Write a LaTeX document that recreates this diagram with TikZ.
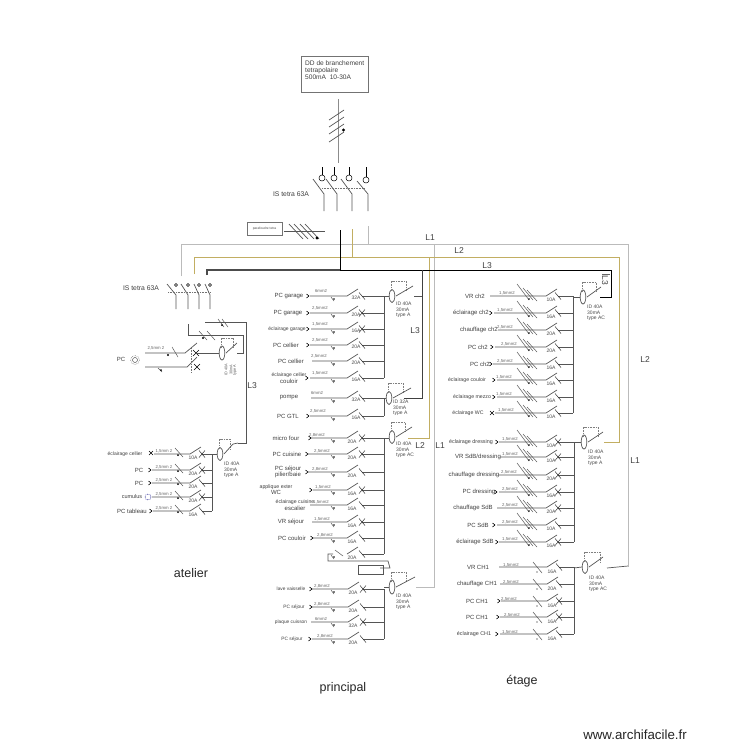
\documentclass[tikz,border=0pt]{standalone}
\usepackage{fontspec}
\setmainfont{Liberation Sans}
\definecolor{busyellow}{HTML}{C2AE62}
\definecolor{busgray}{HTML}{BBBBBB}
\definecolor{wiregray}{HTML}{555555}
\tikzset{
  wire/.style={draw=wiregray,line width=0.7pt},
  thin wire/.style={draw=wiregray,line width=0.5pt},
  dash box/.style={draw=black!50,line width=0.35pt,dash pattern=on 0.8pt off 0.8pt},
  dot line/.style={line width=0.35pt,dash pattern=on 0.8pt off 0.8pt,draw=black!55},
  lbl/.style={inner sep=0pt,align=center,text=black!75,font=\fontsize{6}{6.4}\selectfont},
  secl/.style={inner sep=0pt,text=black!60,font=\fontsize{4.3}{4.5}\selectfont},
  rate/.style={inner sep=0pt,text=black!70,font=\fontsize{5}{5.4}\selectfont},
  idl/.style={inner sep=0pt,align=left,anchor=north west,text=black!70,font=\fontsize{5}{5.4}\selectfont},
  big/.style={inner sep=0pt,font=\fontsize{12.5}{14}\selectfont,text=black!85},
  lline/.style={inner sep=0pt,font=\fontsize{8.5}{10}\selectfont,text=black!75},
}
\newcounter{rw}
\def\SX{347}\def\BX{384}\def\CX{15}\def\SO{5}\def\RO{1.5}\def\RX{9}\def\IDO{8}
\def\SL#1{}
% #1 y, #2 label x, #3 label, #4 symbol x, #5 wire start, #6 section x, #7 section, #8 rating, #9 contact mode
\newcommand{\crow}[9]{%
  \stepcounter{rw}%
  \node[lbl] (lab\therw) at (#2,#1) {#3};
  \if\relax\detokenize{#4}\relax\else
    \draw[line width=0.6pt,black] (#4-1.5,#1-2) -- (#4+1,#1) -- (#4-1.5,#1+2);
  \fi
  \coordinate (s\therw) at (#5,#1);
  \coordinate (e\therw) at (\SX,#1);
  \coordinate (c\therw) at (\SX+\CX,#1);
  \coordinate (b\therw) at (\BX,#1);
  \draw[wire] (s\therw) -- (e\therw) -- ++(11,-7);
  \draw[wire] (c\therw) -- (b\therw);
  \draw[line width=0.5pt,black!80] (\SX+\CX-3,#1-3.5) -- (\SX+\CX+3,#1+3.5);
  \if#9X\draw[line width=0.5pt,black!80] (\SX+\CX-3,#1+3.5) -- (\SX+\CX+3,#1-3.5);\fi
  \SL{#1}
  \node[secl] at (#6,#1-\SO) {#7};
  \node[rate] at (\SX+\RX,#1+\RO) {#8};
}
\newcommand{\idunit}[6]{% x,y of ellipse; ry; box width; blade end x; text
  \draw[wire,fill=white] (#1,#2) ellipse [x radius=2.8,y radius=#3];
  \draw[dash box] (#1-0.5,#2-5) -- (#1-0.5,#2-15) -- (#1+#4,#2-15) -- (#1+#4,#2-5);
  \draw[wire] (#1+4,#2) -- (#5,#2-10);
  \node[idl] at (#1+4,#2+\IDO) {#6};
}
\begin{document}
\begin{tikzpicture}[x=1pt,y=-1pt]
\useasboundingbox (0,0) rectangle (750,750);
\fill[white] (0,0) rectangle (750,750);

% DD box and incoming cable
\node[draw=black!55,line width=0.8pt,minimum width=67pt,minimum height=36pt,inner sep=0pt] (dd) at (334.5,74) {};
\node[inner sep=0pt,align=left,anchor=north west,font=\fontsize{6.6}{6.8}\selectfont,text=black!75] at (305,60.5) {DD de branchement\\tetrapolaire\\500mA~~10-30A};
\draw[draw=black!45,line width=1pt] (338,99) -- (338,163);
\foreach \yy in {120,127,134,142}{\draw[wire] (329,\yy) -- (344,\yy-10);}
\fill (343.5,130) circle (1.7);

% main IS switch
\foreach \a/\b/\cy in {322/324/178,334/337/178,349/352/178,366/368/180}{
  \draw[line width=0.6pt,black] (\a,167) -- (\a,\cy-3);
  \draw[line width=0.5pt,black] (\a,\cy) circle (3);
  \draw[wire] (\b-11,\cy+1) -- (\b,194) -- (\b,211);
}
\draw[dot line] (322,188) -- (365,188);
\node[inner sep=0pt,font=\fontsize{6.8}{7}\selectfont,text=black!75] (is1) at (291,194) {IS tetra 63A};

% surge arrester
\node[draw=black!55,line width=0.7pt,minimum width=35pt,minimum height=13pt,inner sep=0pt,font=\fontsize{3.3}{4}\selectfont,text=black!70] (pf) at (264.5,228.5) {parafoudre tetra};
\draw[wire] (284,231) -- (325,231);
\foreach \xx in {289,294,300,305}{\draw[wire] (\xx,224) -- (\xx+14,239);}
\fill (317,238) circle (1.7);

% phase bars
\draw[draw=busgray,line width=1pt] (368,226) -- (368,244);
\draw[draw=busgray,line width=0.9pt] (181,276) -- (181,244) -- (628,244) -- (628,567);
\draw[draw=busgray,line width=0.9pt] (434,244) -- (434,587) -- (416,587);
\draw[draw=busyellow,line width=0.9pt] (352,229) -- (352,257);
\draw[draw=busyellow,line width=0.9pt] (194,274) -- (194,257) -- (619,257) -- (619,442) -- (604,442);
\draw[draw=busyellow,line width=0.9pt] (429,257) -- (429,438) -- (408,438);
\draw[draw=black!70,line width=1.1pt] (207,275) -- (207,270) -- (340,270);
\draw[black,line width=0.9pt] (340,230) -- (340,270) -- (611,270) -- (611,297) -- (600,297);
\draw[draw=black!75,line width=0.9pt] (422,270) -- (422,398) -- (404,398);
\node[lline] at (430,238) {L1};
\node[lline] at (459,251) {L2};
\node[lline] at (487,266) {L3};
\node[lline] at (415,331) {L3};
\node[lline] at (420,446) {L2};
\node[lline] at (440,446) {L1};
\node[lline] at (645,360) {L2};
\node[lline] at (635,461) {L1};
\node[lline,rotate=-90] at (605,280) {L3};
\draw[draw=black!60,line width=0.5pt] (602,274.5) -- (610,274.5);

% ---------- atelier ----------
\node[inner sep=0pt,font=\fontsize{6.8}{7}\selectfont,text=black!75] (is2) at (141,288) {IS tetra 63A};
\foreach \a/\b in {167/176,181/188,194/199,205/210}{
  \draw[wire] (\a,284) -- (\b,295) -- (\b,309);
  \draw[line width=0.4pt,black] (\b,285) circle (1.5);
}
\draw[dot line] (168,292) -- (210,292);
\draw[wire] (205,322) -- (246,322) -- (246,443) -- (238,443);
\foreach \xx in {218,222}{\draw[thin wire] (\xx,319) -- (\xx+6,327);}
\fill (222,325) circle (1);
\draw[wire] (188,324) -- (188,335) -- (243,335) -- (243,353) -- (237,353);
\foreach \xx in {199,207}{\draw[thin wire] (\xx,331) -- (\xx+8,340);}
\fill (203,338) circle (1.2);
\node[lline] at (252,386) {L3};
% socket
\node[lbl] (pca) at (121,359) {PC};
\draw[dot line] (135,360) circle (4.5);
\draw[line width=0.4pt,black!80] (135,360) circle (2.5);
\draw[wire] (145,353) -- (185,353) -- (197,343);
\draw[wire] (145,367) -- (187,367) -- (197,357);
\node[secl] at (156,348) {2,5mm 2};
\draw[thin wire] (172,347) -- (178,357);
\fill (168,355) circle (1.1);
\draw[thin wire] (158,368) -- (162,372);
\fill (161,370) circle (1);
\draw[black,line width=0.5pt] (193,350) -- (199,356) (193,356) -- (199,350);
\draw[black,line width=0.5pt] (194,364) -- (200,370) (194,370) -- (200,364);
\draw[dot line] (191,348) -- (191,373);
\draw[wire] (196,353) -- (219,353);
\idunit{222}{353}{7}{11}{237}{}
\foreach \xx/\tt in {226/ID 40A,231/30mA,235/type A}{
  \node[inner sep=0pt,rotate=90,text=black!65,font=\fontsize{3.8}{4}\selectfont] at (\xx,370) {\tt};
}
\def\SX{190}\def\BX{212}\def\CX{12}\def\SO{3}\def\RO{3.5}\def\RX{3}
\def\SL#1{\draw[thin wire] (175,#1-6) -- (183,#1+3);\fill (178,#1+1) circle (1);}
\crow{454}{125}{\fontsize{5}{5}\selectfont éclairage cellier}{}{154}{164}{1,5mm 2}{10A}{X}
\draw[line width=0.5pt,black] (149,451) -- (153,455) (149,455) -- (153,451);
\crow{470}{139}{PC}{150}{152}{164}{2,5mm 2}{20A}{X}
\crow{483}{139}{PC}{150}{152}{164}{2,5mm 2}{20A}{K}
\crow{497}{132}{\fontsize{5.5}{5.5}\selectfont cumulus}{}{152}{164}{2,5mm 2}{20A}{X}
\draw[line width=0.4pt,blue!50!black,dash pattern=on 0.8pt off 0.8pt] (148,497) circle (3);
\crow{511}{132}{PC tableau}{151}{153}{164}{2,5mm 2}{16A}{K}
\draw[wire] (212,454) -- (212,511);
\draw[wire] (212,454) -- (217,454);
\def\IDO{8}
\idunit{220}{454}{6.5}{10}{233}{ID 40A\\30mA\\type A}
\draw[wire] (233,444) -- (238,443);
\node[big] (ate) at (191,573) {atelier};

% ---------- principal ----------
\def\SX{347}\def\BX{384}\def\CX{15}\def\SO{5}\def\RO{1.5}\def\RX{9}
\def\SL#1{\draw[thin wire] (331,#1+1) -- (334,#1+5);\fill (334,#1+3) circle (0.8);}
\crow{296}{289}{PC garage}{308}{310}{321}{6mm2}{32A}{K}
\crow{313}{288}{PC garage}{308}{310}{320}{2,5mm2}{20A}{X}
\crow{329}{287}{\fontsize{5}{5}\selectfont éclairage garage}{308}{311}{320}{1,5mm2}{16A}{X}
\crow{345}{286}{PC cellier}{308}{310}{320}{2,5mm2}{20A}{K}
\crow{361}{291}{PC cellier}{}{312}{319}{2,5mm2}{20A}{K}
\crow{378}{289}{\fontsize{5}{5.2}\selectfont éclairage cellier\\couloir}{307}{310}{320}{1,5mm2}{16A}{K}
\draw[wire] (\BX,296) -- (\BX,378);
\draw[wire] (\BX,296) -- (389,296);
\def\IDO{6}
\idunit{392}{296}{6.5}{14}{413}{ID 40A\\30mA\\type A}
\draw[wire] (414,296) -- (422,296);
\crow{398}{289}{pompe}{}{311}{317}{6mm2}{32A}{K}
\crow{416}{288}{PC GTL}{308}{310}{318}{2,5mm2}{16A}{K}
\draw[wire] (\BX,398) -- (\BX,416);
\draw[wire] (\BX,398) -- (386,398);
\def\IDO{2}
\idunit{389}{398}{6.5}{14}{411}{ID 32A\\30mA\\type A}

\def\SO{3}\def\RO{3.5}\def\RX{5}
\crow{438}{286}{micro four}{310}{311}{317}{2,8mm2}{20A}{X}
\crow{454}{287}{PC cuisine}{307}{307}{322}{2,5mm2}{20A}{X}
\crow{472}{288}{PC séjour\\pilier/baie}{307}{307}{320}{2,8mm2}{20A}{K}
\crow{490}{276}{\fontsize{5.2}{5.6}\selectfont applique exter\\[-0.3pt]WC\hspace{30pt}}{311}{313}{323}{1,5mm2}{16A}{X}
\crow{505}{295}{\fontsize{5.2}{5.6}\selectfont éclairage cuisine\\escalier\hspace{20pt}}{}{310}{321}{1,5mm2}{16A}{K}
\crow{522}{291}{VR séjour}{}{312}{322}{1,5mm2}{16A}{X}
\crow{538}{292}{PC couloir}{312}{313}{325}{2,8mm2}{16A}{K}
\crow{554}{350}{}{}{347}{347}{}{20A}{K}
\draw[wire] (\BX,438) -- (\BX,554);
\draw[wire] (\BX,438) -- (389,438);
\def\IDO{5}
\idunit{392}{437}{6.5}{13}{412}{ID 40A\\30mA\\type AC}
\draw[wire] (333,554) -- (328,554) -- (328,561) -- (388,561) -- (390,568) -- (380,568);
\draw[thin wire] (335,550) -- (343,556);
\node[draw=wiregray,line width=0.5pt,minimum width=25pt,minimum height=9pt,inner sep=0pt] (rect) at (370.5,569.5) {};

\def\SX{348}
\crow{589}{291}{\fontsize{4.8}{5}\selectfont lave vaisselle}{311}{312}{322}{2,8mm2}{20A}{X}
\crow{607}{294}{\fontsize{4.8}{5}\selectfont PC séjour}{311}{312}{322}{2,8mm2}{20A}{K}
\crow{622}{291}{\fontsize{4.8}{5}\selectfont plaque cuisson}{}{311}{321}{6mm2}{32A}{X}
\crow{639}{292}{\fontsize{4.8}{5}\selectfont PC séjour}{310}{312}{325}{2,8mm2}{20A}{K}
\draw[wire] (\BX,589) -- (\BX,639);
\draw[wire] (\BX,587) -- (389,587);
\def\IDO{7}
\idunit{392}{587}{7}{14}{415}{ID 40A\\30mA\\type A}
\node[big] (pri) at (343,688) {principal};

% ---------- etage ----------
\def\SX{546}\def\BX{573}\def\CX{12}\def\SO{3}
\def\SL#1{\draw[thin wire] (517,#1-12) -- (529,#1+4) (523,#1-8) -- (533,#1+4) (527,#1-6) -- (537,#1+5);\fill (529,#1+3) circle (0.8);}
\crow{296}{475}{VR ch2}{}{490}{507}{1,5mm2}{10A}{K}
\crow{313}{471}{éclairage ch2}{491}{494}{505}{1,5mm2}{16A}{K}
\crow{330}{479}{chauffage ch2}{}{498}{505}{2,5mm2}{20A}{K}
\crow{347}{478}{PC ch2}{492}{495}{509}{2,5mm2}{20A}{K}
\crow{364}{480}{PC ch2}{491}{493}{505}{2,5mm2}{16A}{K}
\crow{380}{467}{\fontsize{5.2}{5.4}\selectfont éclairage couloir}{494}{497}{504}{1,5mm2}{16A}{K}
\crow{397}{472}{\fontsize{5.2}{5.4}\selectfont éclairage mezzo}{494}{497}{504}{1,5mm2}{16A}{K}
\crow{413}{468}{\fontsize{5.2}{5.4}\selectfont éclairage WC}{}{495}{506}{1,5mm2}{10A}{K}
\draw[line width=0.5pt,black] (490,411) -- (494,415) (490,415) -- (494,411);
\draw[wire] (\BX,296) -- (\BX,413);
\draw[wire] (\BX,297) -- (580,297);
\def\IDO{8}
\idunit{583}{297}{7}{13}{601}{ID 40A\\30mA\\type AC}

\def\BX{574}
\crow{442}{471}{\fontsize{5.4}{5.6}\selectfont éclairage dressing}{497}{499}{510}{1,5mm2}{10A}{X}
\crow{457}{478}{VR SdB/dressing}{}{500}{510}{1,5mm2}{10A}{X}
\crow{475}{474}{chauffage dressing}{}{498}{509}{2,5mm2}{20A}{X}
\crow{492}{479}{PC dressing}{496}{499}{510}{2,5mm2}{16A}{X}
\crow{508}{473}{chauffage SdB}{}{497}{510}{2,5mm2}{20A}{X}
\crow{525}{478}{PC SdB}{494}{497}{510}{2,5mm2}{10A}{K}
\crow{542}{475}{éclairage SdB}{497}{499}{510}{1,5mm2}{16A}{X}
\draw[wire] (\BX,442) -- (\BX,542);
\draw[wire] (\BX,442) -- (581,442);
\idunit{584}{442}{7}{14}{603}{ID 40A\\30mA\\type A}

\def\SX{547}\def\RO{5}\def\SO{2}
\def\SL#1{\draw[thin wire] (533,#1-5) -- (542,#1+6);\fill (537,#1+5) circle (0.7);}
\crow{567}{478}{VR CH1}{}{499}{511}{1,5mm2}{16A}{K}
\crow{584}{477}{chauffage CH1}{}{500}{511}{2,5mm2}{20A}{K}
\crow{601}{477}{PC CH1}{499}{501}{509}{2,5mm2}{16A}{X}
\crow{617}{477}{PC CH1}{498}{500}{512}{2,5mm2}{16A}{X}
\crow{634}{474}{\fontsize{5.4}{5.6}\selectfont éclairage CH1}{497}{500}{510}{1,5mm2}{16A}{K}
\draw[wire] (\BX,567) -- (\BX,634);
\draw[wire] (\BX,568) -- (582,567);
\def\IDO{9}
\idunit{585}{567}{6.5}{15}{603}{ID 40A\\30mA\\type AC}
\draw[wire] (607,568) -- (628,566);
\node[big] (eta) at (522,681) {étage};

\node[inner sep=0pt,font=\fontsize{13.3}{15}\selectfont,text=black!85] (web) at (635,735) {www.archifacile.fr};
\end{tikzpicture}
\end{document}
